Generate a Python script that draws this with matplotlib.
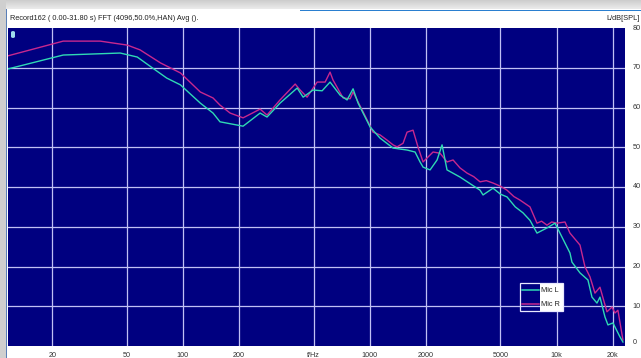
import matplotlib
matplotlib.use("Agg")
import matplotlib.pyplot as plt
from matplotlib.patches import Rectangle, FancyBboxPatch
import numpy as np

# Averaged FFT spectrum of two microphones (SPL in dB vs frequency in Hz)
freq_r = [11.6, 22.9, 36.1, 50.4, 59, 76, 97, 124, 145, 158, 179, 210, 259, 282,
          331, 399, 424, 462, 523, 577, 613, 636, 720, 785, 814, 866, 967, 1041,
          1135, 1237, 1332, 1400, 1507, 1583, 1704, 1813, 1928, 2180, 2376, 2590,
          2790, 3040, 3314, 3600, 3890, 4200, 4564, 5000, 5424, 5900, 6366, 7196,
          7846, 8300, 8874, 9400, 10036, 11076, 11778, 13324, 14172, 15068, 16024,
          17042, 18578, 19758, 20500, 21260, 22620]
spl_r = [73.0, 76.7, 76.7, 75.7, 74.5, 71.2, 68.7, 63.9, 62.4, 60.6, 58.6, 57.4,
         59.6, 58.1, 61.9, 65.9, 64.4, 62.6, 66.4, 66.4, 68.9, 66.9, 62.4, 62.2,
         63.9, 61.4, 56.9, 53.8, 53.1, 51.8, 50.6, 50.1, 51.0, 53.8, 54.3, 50.0,
         46.3, 48.8, 48.5, 46.3, 46.8, 44.8, 43.5, 42.6, 41.3, 41.6, 41.0, 40.2,
         39.2, 37.6, 36.7, 35.0, 30.9, 31.4, 30.4, 31.2, 30.9, 31.2, 28.4, 25.4,
         19.9, 17.4, 13.3, 14.8, 8.6, 9.8, 8.3, 9.0, 1.5]

freq_l = [11.6, 22.9, 46.2, 57, 69, 82, 97, 124, 145, 158, 210, 259, 282, 331,
          409, 440, 497, 556, 613, 694, 756, 814, 866, 1004, 1135, 1332, 1583,
          1747, 1858, 1928, 2102, 2291, 2436, 2590, 3040, 3400, 3890, 4036, 4564,
          5000, 5424, 6000, 6604, 7200, 7846, 8874, 9792, 10674, 11778, 12072,
          13324, 14700, 15444, 16424, 17042, 18126, 18808, 20000, 21800, 22620]
spl_l = [69.7, 73.2, 73.7, 72.7, 69.9, 67.4, 65.7, 61.1, 58.6, 56.4, 55.3, 58.6,
         57.6, 61.1, 64.9, 62.6, 64.4, 64.2, 66.4, 63.1, 61.9, 64.7, 61.1, 55.1,
         52.3, 49.8, 49.3, 48.8, 46.3, 45.0, 44.3, 46.8, 50.6, 44.3, 42.5, 41.0,
         39.2, 38.0, 39.7, 38.2, 37.5, 35.0, 33.5, 31.6, 28.4, 29.7, 30.9, 27.4,
         23.4, 21.1, 18.4, 16.6, 12.3, 10.8, 12.3, 7.3, 5.3, 5.8, 2.3, 1.0]

x_ticks = [20, 50, 100, 200, 500, 1000, 2000, 5000, 10000, 20000]
x_labels = ["20", "50", "100", "200", "f/Hz", "1000", "2000", "5000", "10k", "20k"]
y_ticks = [0, 10, 20, 30, 40, 50, 60, 70, 80]

title_text = "Record162 ( 0.00-31.80 s) FFT (4096,50.0%,HAN) Avg ()."
y_unit = "L/dB[SPL]"
series_names = ["Mic L", "Mic R"]

COL_L = "#2fd9b4"
COL_R = "#c8288e"
BG = "#000080"
GRID = "#c0c0f4"

W, H = 641, 358
fig = plt.figure(figsize=(W / 100, H / 100), dpi=100)
fig.patch.set_facecolor("white")

# window chrome: grey gradient strip on top, grey strip on the left, blue rule
grad = np.linspace(0.80, 0.92, 64).reshape(-1, 1)
top_ax = fig.add_axes([0, 1 - 9 / H, 1, 9 / H])
top_ax.imshow(grad, cmap="gray", vmin=0, vmax=1, aspect="auto")
top_ax.set_axis_off()
fig.add_artist(Rectangle((0, 0), 6 / W, 1, transform=fig.transFigure,
                         facecolor="#cfcfcf", edgecolor="none"))
fig.add_artist(Rectangle((6 / W, 0), 1.2 / W, 1 - 9 / H, transform=fig.transFigure,
                         facecolor="#5a7fb8", edgecolor="none"))
fig.add_artist(Rectangle((300 / W, 1 - 11 / H), 1, 1.4 / H, transform=fig.transFigure,
                         facecolor="#2a7fd0", edgecolor="none"))

ax_l, ax_r, ax_t, ax_b = 8, 625, 28, 346
ax = fig.add_axes([ax_l / W, 1 - ax_b / H, (ax_r - ax_l) / W, (ax_b - ax_t) / H])
ax.set_facecolor(BG)
ax.set_xscale("log")
ax.set_xlim(11.6, 23200)
ax.set_ylim(0, 80)

for xv in x_ticks:
    ax.axvline(xv, color=GRID, lw=0.9, zorder=1)
for yv in y_ticks[1:-1]:
    ax.axhline(yv, color=GRID, lw=0.9, zorder=1)

ax.plot(freq_r, spl_r, color=COL_R, lw=1.0, zorder=3)
ax.plot(freq_l, spl_l, color=COL_L, lw=1.0, zorder=4)

ax.set_xticks([])
ax.set_yticks([])
ax.minorticks_off()
for s in ax.spines.values():
    s.set_visible(False)

# tick labels below and to the right of the plot
for xv, lab in zip(x_ticks, x_labels):
    ax.text(xv, -1.5, lab, ha="center", va="top", fontsize=5.2,
            color="#333333", family="Liberation Sans", clip_on=False)
for yv in y_ticks:
    ax.text(1.012, yv / 80, str(yv), transform=ax.transAxes, ha="left",
            va="center" if yv > 0 else "bottom", fontsize=5.2, color="#333333",
            family="Liberation Sans", clip_on=False)

fig.text(10 / W, 1 - 18.5 / H, title_text, ha="left", va="center", fontsize=5.3,
         color="#222222", family="Liberation Sans")
fig.text(640 / W, 1 - 18.5 / H, y_unit, ha="right", va="center", fontsize=5.3,
         color="#222222", family="Liberation Sans")

# small marker in the upper-left corner of the plot
ax.add_patch(FancyBboxPatch(((11 - ax_l) / (ax_r - ax_l), 1 - (38 - ax_t) / (ax_b - ax_t)),
                            4 / (ax_r - ax_l), 7 / (ax_b - ax_t),
                            boxstyle="round,pad=0,rounding_size=0.004",
                            transform=ax.transAxes, facecolor="#9fdcec",
                            edgecolor="none", zorder=5))

# legend box
def fx(px):
    return (px - ax_l) / (ax_r - ax_l)

def fy(py):
    return 1 - (py - ax_t) / (ax_b - ax_t)

lg_l, lg_m, lg_r, lg_t, lg_b = 520, 540, 563, 283, 311
ax.add_patch(Rectangle((fx(lg_m), fy(lg_b)), fx(lg_r) - fx(lg_m), fy(lg_t) - fy(lg_b),
                       transform=ax.transAxes, facecolor="white", edgecolor="none",
                       zorder=6))
ax.add_patch(Rectangle((fx(lg_l), fy(lg_b)), fx(lg_r) - fx(lg_l), fy(lg_t) - fy(lg_b),
                       transform=ax.transAxes, facecolor="none", edgecolor="#e8e8ff",
                       lw=0.9, zorder=7))
for name, col, py in zip(series_names, [COL_L, COL_R], [290, 304]):
    ax.plot([fx(lg_l + 2), fx(lg_m - 1)], [fy(py), fy(py)], transform=ax.transAxes,
            color=col, lw=1.1, zorder=7)
    ax.text(fx(lg_m + 1), fy(py), name, transform=ax.transAxes, ha="left",
            va="center", fontsize=5.3, color="#222222", family="Liberation Sans",
            zorder=8)

fig.savefig("out.png", dpi=100, facecolor=fig.get_facecolor())
